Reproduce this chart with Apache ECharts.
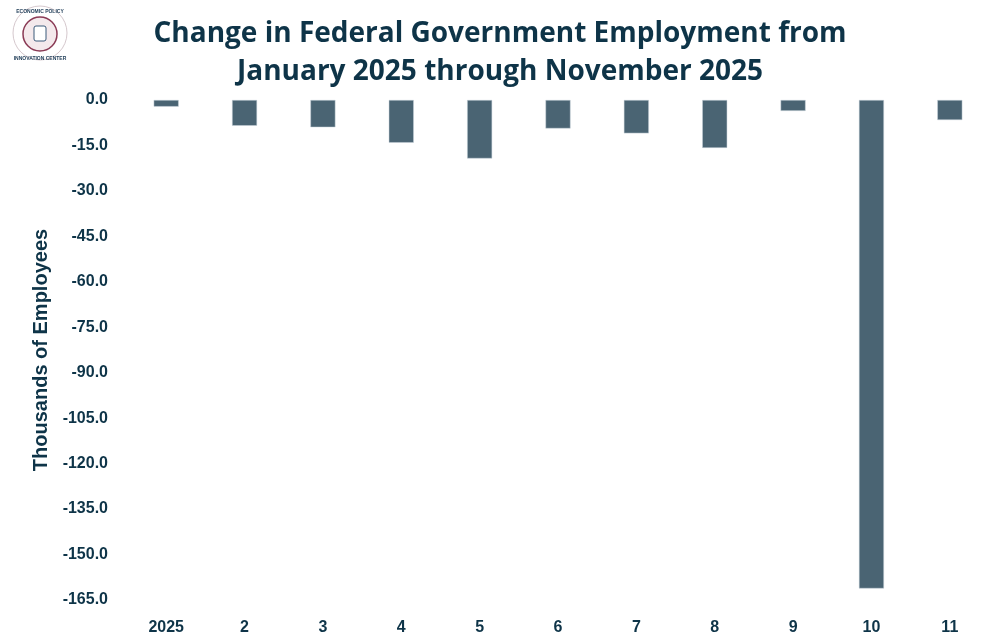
<!DOCTYPE html>
<html>
<head>
<meta charset="utf-8">
<script src="https://cdn.jsdelivr.net/npm/echarts@6/dist/echarts.min.js"></script>
<style>html,body{margin:0;padding:0;background:#fff;}#c{width:1000px;height:644px;}</style>
</head>
<body>
<div id="c"></div>
<script>
const categories = ['2025','2','3','4','5','6','7','8','9','10','11'];
const changeValues = [-2.2, -8.5, -9.0, -14.1, -19.3, -9.4, -11.0, -15.8, -3.6, -161.2, -6.6];
const titleLines = ['Change in Federal Government Employment from', 'January 2025 through November 2025'];
const yAxisName = 'Thousands of Employees';

const navy = '#0e3448';
const chart = echarts.init(document.getElementById('c'));
chart.setOption({
  backgroundColor: '#fff',
  animation: false,
  title: {
    text: titleLines.join('\n'),
    left: 495, top: 10, textAlign: 'center',
    textStyle: { fontFamily: 'Open Sans', fontWeight: 'bold', fontSize: 28, color: navy, lineHeight: 38 }
  },
  graphic: [
    { type: 'circle', shape: { cx: 40, cy: 33, r: 27 }, style: { fill: 'none', stroke: '#d5c8cd', lineWidth: 1 } },
    { type: 'circle', shape: { cx: 40, cy: 34, r: 17 }, style: { fill: '#f4e9ec', stroke: '#8a3a55', lineWidth: 1.5 } },
    { type: 'rect', shape: { x: 34, y: 26, width: 12, height: 15, r: 2 }, style: { fill: '#fff', stroke: '#3a5a7a', lineWidth: 1 } },
    { type: 'text', style: { x: 40, y: 12, text: 'ECONOMIC POLICY', fontSize: 5, fontWeight: 'bold', fill: '#1d3b56', align: 'center', verticalAlign: 'middle', fontFamily: 'Liberation Sans' } },
    { type: 'text', style: { x: 40, y: 59, text: 'INNOVATION CENTER', fontSize: 5, fontWeight: 'bold', fill: '#1d3b56', align: 'center', verticalAlign: 'middle', fontFamily: 'Liberation Sans' } }
  ],
  grid: { left: 127, right: 11, top: 100, bottom: 44, containLabel: false },
  xAxis: {
    type: 'category', data: categories, position: 'bottom',
    axisLine: { show: false, onZero: false }, axisTick: { show: false },
    axisLabel: { margin: 20, fontFamily: 'Liberation Sans', fontWeight: 'bold', fontSize: 16, color: navy }
  },
  yAxis: {
    type: 'value', min: -165, max: 0, interval: 15,
    name: yAxisName, nameLocation: 'middle', nameGap: 76, nameRotate: 90,
    nameTextStyle: { fontFamily: 'Liberation Sans', fontWeight: 'bold', fontSize: 20, color: navy },
    splitLine: { show: false }, axisLine: { show: false }, axisTick: { show: false },
    axisLabel: { margin: 19, fontFamily: 'Liberation Sans', fontWeight: 'bold', fontSize: 16, color: navy,
      formatter: v => v.toFixed(1) }
  },
  series: [{
    type: 'bar', data: changeValues, barWidth: 25,
    itemStyle: { color: '#4a6473', borderColor: '#c9d3da', borderWidth: 0.5 }
  }]
});
</script>
</body>
</html>
